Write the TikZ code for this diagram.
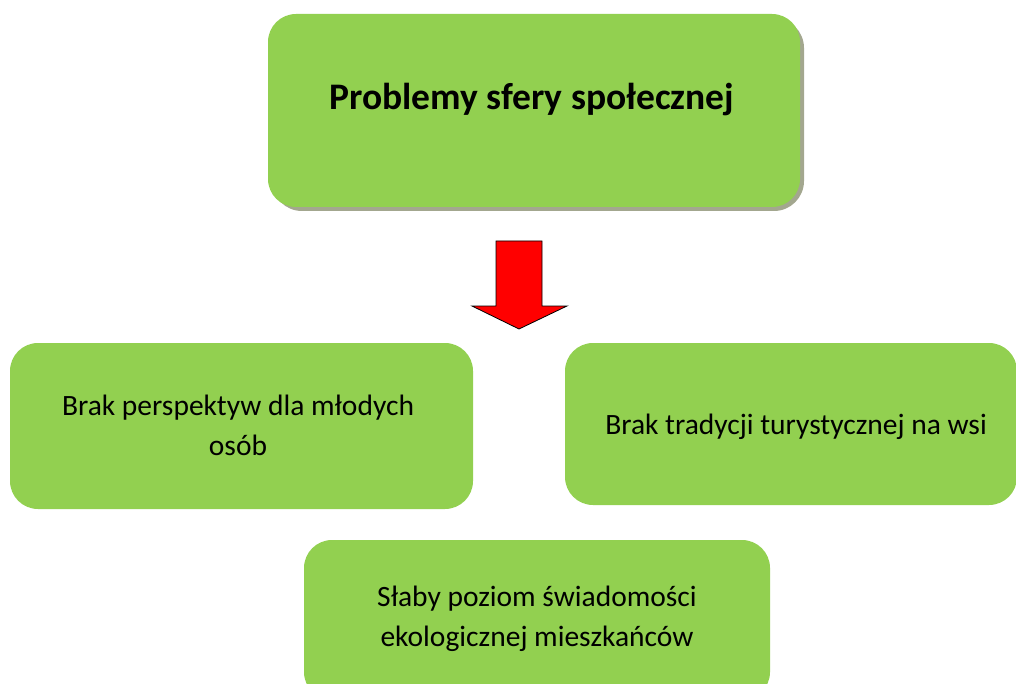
\documentclass[tikz,border=0pt]{standalone}
\usepackage{fontspec}
\setmainfont{Carlito}
\definecolor{boxgreen}{HTML}{92D050}
\definecolor{shadowgray}{HTML}{A3A78F}
\tikzset{
  gbox/.style={fill=boxgreen, draw=none, rounded corners=28pt, inner sep=0pt},
  btext/.style={font=\fontsize{29.5}{40}\selectfont, align=center, text=black},
}
\begin{document}
\begin{tikzpicture}[x=1pt,y=-1pt]
\useasboundingbox (0,0) rectangle (1016,684);
\clip (0,0) rectangle (1016,684);
% top box with shadow
\fill[shadowgray, rounded corners=30pt] (272,18) rectangle (804,211);
\node[gbox, minimum width=532pt, minimum height=193pt] (top) at (534,110.5) {};
\node[font=\bfseries\fontsize{37.5}{44}\selectfont] (title) at (532,100) {Problemy sfery społecznej};
% arrow
\draw[fill=red, draw=black, line width=0.8pt, line join=miter]
  (496,241) -- (542,241) -- (542,306) -- (567,306) -- (519,329) -- (472,306) -- (496,306) -- cycle;
% left box
\node[gbox, minimum width=463pt, minimum height=166pt] (left) at (241.5,426) {};
\node[btext] (lefttext) at (238,425) {Brak perspektyw dla młodych\\osób};
% right box
\node[gbox, minimum width=452pt, minimum height=162pt] (right) at (791,424) {};
\node[btext] (righttext) at (796,427) {Brak tradycji turystycznej na wsi};
% bottom box
\node[gbox, minimum width=466pt, minimum height=160pt] (bottom) at (537,620) {};
\node[btext] (bottomtext) at (537,619) {Słaby poziom świadomości\\ekologicznej mieszkańców};
\end{tikzpicture}
\end{document}
